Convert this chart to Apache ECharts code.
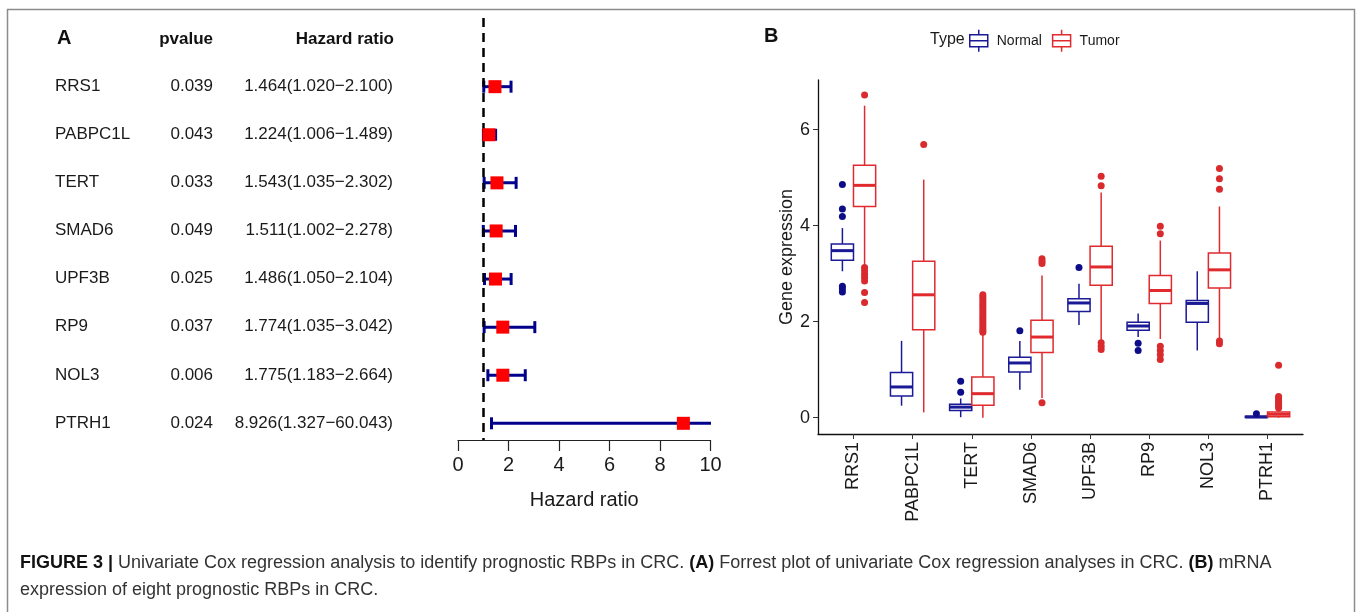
<!DOCTYPE html>
<html>
<head>
<meta charset="utf-8">
<script src="https://cdn.jsdelivr.net/npm/echarts@6/dist/echarts.min.js"></script>
<style>
html,body{margin:0;padding:0;background:#fff}
#main{width:1358px;height:612px}
</style>
</head>
<body>
<div id="main"></div>
<script>
// A: univariate cox regression
var coxGenes = ['RRS1','PABPC1L','TERT','SMAD6','UPF3B','RP9','NOL3','PTRH1'];
var coxP = ['0.039','0.043','0.033','0.049','0.025','0.037','0.006','0.024'];
var coxHR = [1.464,1.224,1.543,1.511,1.486,1.774,1.775,8.926];
var coxLow = [1.020,1.006,1.035,1.002,1.050,1.035,1.183,1.327];
var coxHigh = [2.100,1.489,2.302,2.278,2.104,3.042,2.664,60.043];

// B: expression boxes, [min, q1, median, q3, max]
var exprGenes = ['RRS1','PABPC1L','TERT','SMAD6','UPF3B','RP9','NOL3','PTRH1'];
var normalBox = [
  [3.05,3.28,3.48,3.62,3.95],
  [0.25,0.45,0.64,0.94,1.60],
  [0.01,0.15,0.22,0.28,0.40],
  [0.58,0.95,1.14,1.26,1.60],
  [1.93,2.21,2.39,2.48,2.79],
  [1.68,1.82,1.91,1.99,2.17],
  [1.40,1.99,2.38,2.44,3.05],
  [0.00,0.005,0.015,0.03,0.05]
];
var tumorBox = [
  [3.19,4.40,4.84,5.26,6.50],
  [0.11,1.83,2.56,3.26,4.96],
  [0.00,0.26,0.50,0.85,1.75],
  [0.41,1.36,1.68,2.03,2.96],
  [1.59,2.76,3.14,3.57,4.69],
  [1.64,2.38,2.65,2.96,3.69],
  [1.64,2.70,3.08,3.43,4.40],
  [0.00,0.02,0.07,0.12,0.17]
];
var normalOut = [
  [4.86,4.35,4.19,2.74,2.68,2.62],
  [],
  [0.76,0.53],
  [1.81],
  [3.13],
  [1.55,1.40],
  [],
  [0.08]
];
var tumorOut = [
  [6.72,3.13,3.06,2.99,2.92,2.85,2.61,2.40],
  [5.69],
  [1.78,1.82,1.87,1.92,1.97,2.02,2.07,2.12,2.17,2.22,2.27,2.32,2.37,2.42,2.47,2.52,2.56],
  [3.31,3.26,3.21,0.31],
  [5.03,4.83,1.56,1.49,1.42],
  [3.99,3.83,1.49,1.40,1.31,1.21],
  [5.19,4.98,4.76,1.60,1.54],
  [0.20,0.24,0.28,0.32,0.36,0.40,0.44,1.09]
];
var exprTicks = [0,2,4,6];

var FONT = '"Liberation Sans", Arial, Helvetica, sans-serif';
var navy = '#1a1a96';
var red = '#e02a2e';
var half = 0.1875;

var hrText = coxHR.map(function (v, i) {
  return v.toFixed(3) + '(' + coxLow[i].toFixed(3) + '\u2212' + coxHigh[i].toFixed(3) + ')';
});
var ciData = coxHR.map(function (v, i) { return [i, coxLow[i], coxHigh[i]]; });
var hrData = coxHR.map(function (v, i) { return [v, i]; });

function boxData(arr) {
  return arr.map(function (b, i) { return [i].concat(b); });
}
function outData(arr, side) {
  var res = [];
  arr.forEach(function (vals, i) {
    vals.forEach(function (v) { res.push([i + side * half, v]); });
  });
  return res;
}

function drawCI(params, api) {
  var row = api.value(0);
  var a = api.coord([api.value(1), row]);
  var b = api.coord([api.value(2), row]);
  var st = { stroke: '#00008b', lineWidth: 3 };
  var cap = 6;
  return { type: 'group', children: [
    { type: 'line', shape: { x1: a[0], y1: a[1], x2: b[0], y2: b[1] }, style: st },
    { type: 'line', shape: { x1: a[0], y1: a[1] - cap, x2: a[0], y2: a[1] + cap }, style: st },
    { type: 'line', shape: { x1: b[0], y1: b[1] - cap, x2: b[0], y2: b[1] + cap }, style: st }
  ]};
}

function drawBox(side, color) {
  return function (params, api) {
    var c = api.value(0) + side * half;
    var lo = api.value(1), q1 = api.value(2), md = api.value(3), q3 = api.value(4), hi = api.value(5);
    var tl = api.coord([c - half, q3]);
    var br = api.coord([c + half, q1]);
    var top = api.coord([c, hi]), bot = api.coord([c, lo]);
    var mid = api.coord([c, md]);
    var st = { stroke: color, lineWidth: 1.5, fill: 'none' };
    return { type: 'group', children: [
      { type: 'line', shape: { x1: top[0], y1: top[1], x2: top[0], y2: tl[1] }, style: st },
      { type: 'line', shape: { x1: bot[0], y1: br[1], x2: bot[0], y2: bot[1] }, style: st },
      { type: 'rect', shape: { x: tl[0], y: tl[1], width: br[0] - tl[0], height: br[1] - tl[1] },
        style: { stroke: color, lineWidth: 1.5, fill: '#fff' } },
      { type: 'line', shape: { x1: tl[0], y1: mid[1], x2: br[0], y2: mid[1] },
        style: { stroke: color, lineWidth: 3 } }
    ]};
  };
}

var boxIcon = 'path://M9,0 L9,5 M0,5 L18,5 L18,17 L0,17 Z M0,11 L18,11 M9,17 L9,22';

var myChart = echarts.init(document.getElementById('main'));

var option = {
  animation: false,
  textStyle: { fontFamily: FONT },
  grid: [
    { left: 458, width: 252.5, top: 18, height: 422 },
    { left: 818, right: 55, top: 80, bottom: 178 },
    { left: 400, width: 10, top: 62, height: 385 }
  ],
  xAxis: [
    {
      gridIndex: 0, type: 'value', min: 0, max: 10, interval: 2,
      name: 'Hazard ratio', nameLocation: 'middle', nameGap: 50,
      nameTextStyle: { fontSize: 20, color: '#1a1a1a' },
      axisLine: { onZero: false, lineStyle: { color: '#222', width: 1.2 } },
      axisTick: { length: 11, lineStyle: { color: '#222', width: 1.2 } },
      axisLabel: { fontSize: 20, color: '#1a1a1a', margin: 15 },
      splitLine: { show: false }
    },
    {
      gridIndex: 1, type: 'value', min: -0.6, max: 7.6,
      axisLine: { onZero: false, lineStyle: { color: '#111', width: 1.3 } },
      axisTick: { length: 5, customValues: [0,1,2,3,4,5,6,7], lineStyle: { color: '#333' } },
      axisLabel: {
        customValues: [0,1,2,3,4,5,6,7], rotate: 90, fontSize: 18, color: '#1a1a1a', margin: 8,
        formatter: function (v) { return exprGenes[Math.round(v)]; }
      },
      splitLine: { show: false }
    },
    { gridIndex: 2, type: 'value', show: false }
  ],
  yAxis: [
    { gridIndex: 0, type: 'value', min: -1.428, max: 7.347, inverse: true, show: false },
    {
      gridIndex: 1, type: 'value', min: -0.34, max: 7.035,
      name: 'Gene expression', nameLocation: 'middle', nameGap: 22,
      nameTextStyle: { fontSize: 18, color: '#1a1a1a' },
      axisLine: { show: true, onZero: false, lineStyle: { color: '#111', width: 1.3 } },
      axisTick: { show: true, length: 5, customValues: exprTicks, lineStyle: { color: '#333' } },
      axisLabel: { customValues: exprTicks, fontSize: 18, color: '#1a1a1a', margin: 8 },
      splitLine: { show: false }
    },
    {
      gridIndex: 2, type: 'category', data: coxGenes, inverse: true, position: 'left', offset: 345,
      axisLine: { show: false }, axisTick: { show: false },
      axisLabel: { align: 'left', margin: 0, fontSize: 17, color: '#1a1a1a', interval: 0 }
    },
    {
      gridIndex: 2, type: 'category', data: coxP, inverse: true, position: 'left', offset: 187,
      axisLine: { show: false }, axisTick: { show: false },
      axisLabel: { align: 'right', margin: 0, fontSize: 17, color: '#1a1a1a', interval: 0 }
    },
    {
      gridIndex: 2, type: 'category', data: hrText, inverse: true, position: 'left', offset: 0,
      axisLine: { show: false }, axisTick: { show: false },
      axisLabel: { align: 'right', margin: 7, fontSize: 17, color: '#1a1a1a', interval: 0 }
    }
  ],
  legend: {
    left: 964, top: 24, itemWidth: 18, itemHeight: 22, itemGap: 10,
    textStyle: { fontSize: 14, color: '#1a1a1a', padding: [0, 0, 0, 4] },
    data: [
      { name: 'Normal', icon: boxIcon, itemStyle: { color: '#fff', borderColor: navy, borderWidth: 1.5 } },
      { name: 'Tumor', icon: boxIcon, itemStyle: { color: '#fff', borderColor: red, borderWidth: 1.5 } }
    ]
  },
  series: [
    {
      type: 'custom', name: 'CI', xAxisIndex: 0, yAxisIndex: 0,
      renderItem: drawCI, data: ciData, clip: true,
      encode: { x: [1, 2], y: 0 }, silent: true
    },
    {
      type: 'scatter', name: 'HR', xAxisIndex: 0, yAxisIndex: 0,
      data: hrData, symbol: 'rect', symbolSize: 13, z: 5,
      itemStyle: { color: '#ff0000', opacity: 1 },
      markLine: {
        silent: true, symbol: 'none', label: { show: false },
        lineStyle: { color: '#000', width: 2.5, type: [9, 6] },
        data: [{ xAxis: 1 }]
      }
    },
    {
      type: 'custom', name: 'Normal', xAxisIndex: 1, yAxisIndex: 1,
      renderItem: drawBox(-1, navy), data: boxData(normalBox),
      encode: { x: 0, y: [1, 5] }, itemStyle: { color: navy }
    },
    {
      type: 'custom', name: 'Tumor', xAxisIndex: 1, yAxisIndex: 1,
      renderItem: drawBox(1, red), data: boxData(tumorBox),
      encode: { x: 0, y: [1, 5] }, itemStyle: { color: red }
    },
    {
      type: 'scatter', name: 'Normal outliers', xAxisIndex: 1, yAxisIndex: 1,
      data: outData(normalOut, -1), symbolSize: 7, itemStyle: { color: '#0d0d8a', opacity: 1 }
    },
    {
      type: 'scatter', name: 'Tumor outliers', xAxisIndex: 1, yAxisIndex: 1,
      data: outData(tumorOut, 1), symbolSize: 7, itemStyle: { color: '#d92a2e', opacity: 1 }
    }
  ],
  graphic: [
    { type: 'rect', shape: { x: 7.5, y: 9.5, width: 1347, height: 640 },
      style: { fill: 'none', stroke: '#8c8c8c', lineWidth: 1.5 }, silent: true },
    { type: 'text', x: 57, y: 38, style: { text: 'A', font: 'bold 20px ' + FONT, fill: '#111', textVerticalAlign: 'middle' } },
    { type: 'text', x: 213, y: 39, style: { text: 'pvalue', font: 'bold 17px ' + FONT, fill: '#111', textAlign: 'right', textVerticalAlign: 'middle' } },
    { type: 'text', x: 394, y: 39, style: { text: 'Hazard ratio', font: 'bold 17px ' + FONT, fill: '#111', textAlign: 'right', textVerticalAlign: 'middle' } },
    { type: 'text', x: 764, y: 36, style: { text: 'B', font: 'bold 20px ' + FONT, fill: '#111', textVerticalAlign: 'middle' } },
    { type: 'text', x: 930, y: 40, style: { text: 'Type', font: '16px ' + FONT, fill: '#1a1a1a', textVerticalAlign: 'middle' } },
    { type: 'text', x: 20, y: 563, style: {
      text: '{b|FIGURE 3 |} Univariate Cox regression analysis to identify prognostic RBPs in CRC. {b|(A)} Forrest plot of univariate Cox regression analyses in CRC. {b|(B)} mRNA',
      font: '18px ' + FONT, fill: '#333', textVerticalAlign: 'middle',
      rich: { b: { fontWeight: 'bold', fontSize: 18, fontFamily: FONT, fill: '#111' } }
    } },
    { type: 'text', x: 20, y: 590, style: {
      text: 'expression of eight prognostic RBPs in CRC.',
      font: '18px ' + FONT, fill: '#333', textVerticalAlign: 'middle'
    } }
  ]
};

myChart.setOption(option);
</script>
</body>
</html>
